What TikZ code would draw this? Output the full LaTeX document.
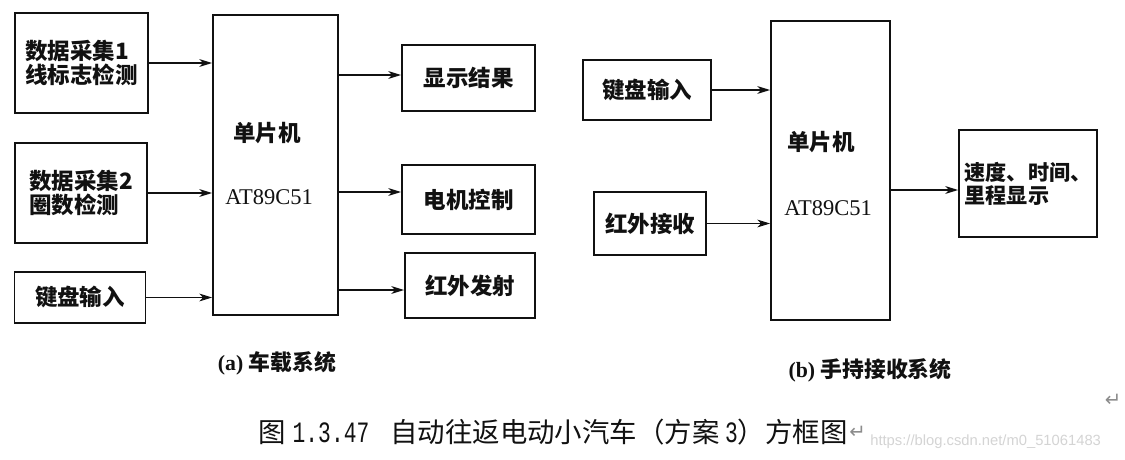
\documentclass[tikz,border=0pt]{standalone}
\usepackage{graphicx}
\usepackage{fontspec}
\setmainfont{Liberation Serif}
\newfontfamily\cjk{Noto Sans CJK SC}
\newfontfamily\digitfont{Liberation Mono}
\newfontfamily\symfont{DejaVu Sans}
\newfontfamily\wmfont{Liberation Sans}
\usetikzlibrary{arrows.meta, positioning, calc}
\definecolor{ink}{HTML}{111111}
\definecolor{markg}{HTML}{8C8C8C}
\definecolor{wmark}{HTML}{D4D4D4}
% narrow tall digits for the caption
\newcommand{\capnum}[1]{\scalebox{0.72}[1]{\digitfont\fontsize{21}{22}\selectfont #1}}

\begin{document}
\begin{tikzpicture}[x=0.025cm, y=-0.025cm,
    every node/.style={text=ink},
    blk/.style={draw=ink, line width=1.3pt, inner sep=0pt},
    blktxt/.style={font=\cjk\bfseries\fontsize{16}{17}\selectfont, align=left},
    chiptxt/.style={font=\fontsize{16}{19}\selectfont},
    subcap/.style={font=\bfseries\fontsize{15.5}{18}\selectfont},
    flow/.style={-{Stealth[length=9pt, width=5.5pt, inset=2.5pt]}, line width=1pt, ink}
]

% ---------------- canvas, white ----------------
\fill[white] (0,0) rectangle (1125,460);
\useasboundingbox (0,0) rectangle (1125,460);

% ================= panel (a): on-board system =================
\node[blk, blktxt, minimum width=3.325cm, minimum height=2.5cm] (daq1) at (81.5,63) {数据采集1\\线标志检测};
\node[blk, blktxt, minimum width=3.3cm, minimum height=2.5cm] (daq2) at (81,193) {数据采集2\\圈数检测};
\node[blk, blktxt, minimum width=3.275cm, minimum height=1.275cm] (keya) at (80,297.5) {键盘输入};

% controller, two text lines placed apart
\node[blk, minimum width=3.125cm, minimum height=7.5cm] (mcua) at (275.5,165) {};
\node[blktxt] (mcuaname) at (267,133) {单片机};
\node[chiptxt] (mcuapart) at (269,197) {AT89C51};

\node[blk, blktxt, minimum width=3.325cm, minimum height=1.65cm] (disp) at (468.5,78) {显示结果};
\node[blk, blktxt, minimum width=3.325cm, minimum height=1.725cm] (motor) at (468.5,199.5) {电机控制};
\node[blk, blktxt, minimum width=3.25cm, minimum height=1.625cm] (irtx) at (470,285.5) {红外发射};

\draw[flow] (daq1.east) -- (daq1.east -| mcua.west);
\draw[flow] (daq2.east) -- (daq2.east -| mcua.west);
\draw[flow] (keya.east) -- (keya.east -| mcua.west);

\coordinate (dispin) at ($(disp.west)+(0,-3)$);
\coordinate (motorin) at ($(motor.west)+(0,-7.5)$);
\coordinate (irtxin) at ($(irtx.west)+(0,4.5)$);
\draw[flow] (mcua.east |- dispin) -- (dispin);
\draw[flow] (mcua.east |- motorin) -- (motorin);
\draw[flow] (mcua.east |- irtxin) -- (irtxin);

\node[subcap] (capa) at (277,363) {(a) {\cjk 车载系统}};

% ================= panel (b): handheld receiver =================
\node[blk, blktxt, minimum width=3.2cm, minimum height=1.5cm] (keyb) at (647,90) {键盘输入};
\node[blk, blktxt, minimum width=2.8cm, minimum height=1.575cm] (irrx) at (650,223.5) {红外接收};

\node[blk, minimum width=2.975cm, minimum height=7.475cm] (mcub) at (830.5,170.5) {};
\node[blktxt] (mcubname) at (821,142) {单片机};
\node[chiptxt] (mcubpart) at (828,208) {AT89C51};

\node[blk, blktxt, font=\cjk\bfseries\fontsize{15}{16.3}\selectfont, minimum width=3.45cm, minimum height=2.675cm] (show) at (1028,183.5) {速度、时间、\\里程显示};

\draw[flow] (keyb.east) -- (keyb.east -| mcub.west);
\draw[flow] (irrx.east) -- (irrx.east -| mcub.west);
\coordinate (showin) at ($(show.west)+(0,6.5)$);
\draw[flow] (mcub.east |- showin) -- (showin);

\node[subcap] (capb) at (870,370) {(b) {\cjk 手持接收系统}};

% ---------------- figure caption ----------------
\node[font=\cjk\fontsize{19.5}{22}\selectfont, anchor=west, inner sep=0pt] (figcap) at (258,432)
    {图\hspace{5pt}\capnum{1.3.47}\hspace{15pt}自动往返电动小汽车（方案\hspace{4pt}\capnum{3}）方框图};
\node[font=\symfont\fontsize{14}{16}\selectfont, text=markg, right=1pt of figcap, inner sep=0pt] (retcap) {↵};
\node[font=\symfont\fontsize{14}{16}\selectfont, text=markg, inner sep=0pt] (rettop) at (1113,400) {↵};
\node[font=\wmfont\fontsize{10.5}{12}\selectfont, text=wmark, anchor=west, inner sep=0pt] (wm) at (870,442) {https://blog.csdn.net/m0\_51061483};

\end{tikzpicture}
\end{document}
